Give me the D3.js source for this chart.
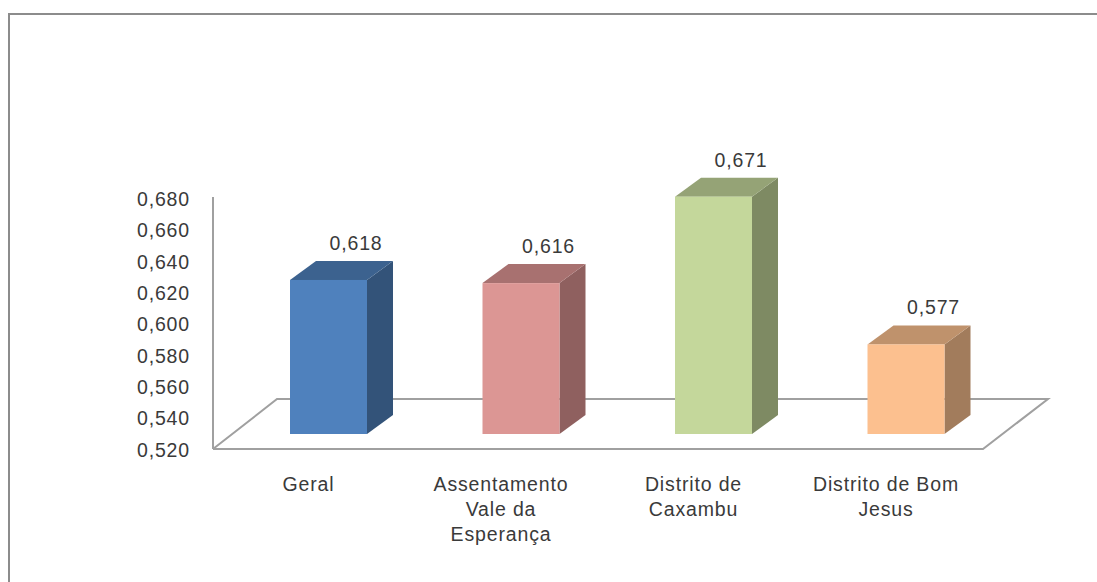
<!DOCTYPE html>
<html><head><meta charset="utf-8">
<script src="https://cdn.jsdelivr.net/npm/d3@7"></script>
<style>html,body{margin:0;padding:0;background:#fff;overflow:hidden}svg{display:block}
text{font-family:"Liberation Sans",Arial,sans-serif;fill:#3a3a3a;letter-spacing:0.85px}</style></head>
<body><div id="c"></div>
<script>
const categories = ["Geral","Assentamento Vale da Esperança","Distrito de Caxambu","Distrito de Bom Jesus"];
const categoryLines = [["Geral"],["Assentamento","Vale da","Esperança"],["Distrito de","Caxambu"],["Distrito de Bom","Jesus"]];
const values = [0.618,0.616,0.671,0.577];
const valueLabels = ["0,618","0,616","0,671","0,577"];
const frontColors = ["#4f81bd","#dc9694","#c4d79b","#fcc08f"];
const topColors = ["#3c628f","#a87170","#95a376","#bf926c"];
const sideColors = ["#335379","#8f605f","#7e8a63","#a27c5c"];
const tickValues = [0.52,0.54,0.56,0.58,0.60,0.62,0.64,0.66,0.68];

const W=1097,H=582;
const svg=d3.select("#c").append("svg").attr("width",W).attr("height",H);
const fmt=v=>d3.format(".3f")(v).replace(".",",");

// frame
svg.append("path").attr("d",`M9,${H+5}V14H${W+5}`).attr("fill","none").attr("stroke","#8c8c8c").attr("stroke-width",2);

const x=d3.scaleBand().domain(categories).range([232.25,1002.25]).paddingInner(0.6).paddingOuter(0.3);
const y=d3.scaleLinear().domain([0.52,0.68]).range([434,182.5]);
const yLabel=d3.scaleLinear().domain([0.52,0.68]).range([450,199]);
const dx=26,dy=19;
const fs=19.5;

// floor and wall
const wall="#a0a0a0";
const floor=[[213,449],[983,449],[1048,399],[277,399],[213,449]];
svg.append("path").attr("d",d3.line()(floor)).attr("fill","none").attr("stroke",wall).attr("stroke-width",2);
svg.append("line").attr("x1",213).attr("x2",213).attr("y1",197).attr("y2",449).attr("stroke",wall).attr("stroke-width",2);

// y labels
const axis=svg.append("g").attr("transform","translate(190,0)")
  .call(d3.axisLeft(yLabel).tickValues(tickValues).tickFormat(fmt).tickSize(0).tickPadding(0));
axis.select(".domain").remove();
axis.selectAll("text").attr("font-size",fs).attr("style","font-family:'Liberation Sans',Arial,sans-serif;fill:#3a3a3a;letter-spacing:0.85px");

// bars
const g=svg.selectAll("g.bar").data(categories).enter().append("g").attr("class","bar");
const bw=x.bandwidth();
g.append("path").attr("fill",(d,i)=>sideColors[i]).attr("d",(d,i)=>{const a=x(d)+bw,t=y(values[i]),b=y(0.52);
  return `M${a},${t}L${a+dx},${t-dy}V${b-dy}L${a},${b}Z`;});
g.append("path").attr("fill",(d,i)=>topColors[i]).attr("d",(d,i)=>{const a=x(d),t=y(values[i]);
  return `M${a},${t}L${a+dx},${t-dy}H${a+bw+dx}L${a+bw},${t}Z`;});
g.append("rect").attr("fill",(d,i)=>frontColors[i]).attr("x",d=>x(d)).attr("width",bw)
  .attr("y",(d,i)=>y(values[i])).attr("height",(d,i)=>y(0.52)-y(values[i]));

// value labels
g.append("text").attr("text-anchor","middle").attr("font-size",fs)
  .attr("x",d=>x(d)+bw/2+27.5).attr("y",(d,i)=>y(values[i])-30).text((d,i)=>valueLabels[i]);

// category labels
g.append("text").attr("text-anchor","middle").attr("font-size",fs).each(function(d,i){
  d3.select(this).selectAll("tspan").data(categoryLines[i]).enter().append("tspan")
    .attr("x",x(d)+bw/2-20).attr("y",(l,j)=>491+j*25).text(l=>l);
});
</script></body></html>
